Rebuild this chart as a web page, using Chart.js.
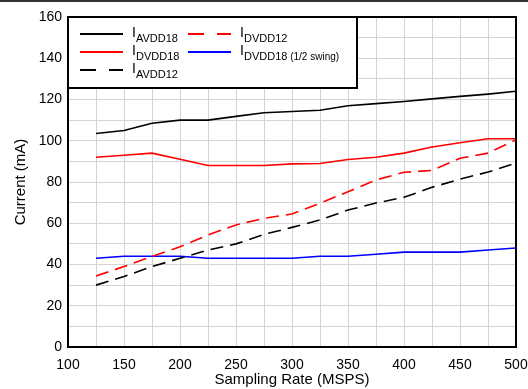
<!DOCTYPE html>
<html>
<head>
<meta charset="utf-8">
<script src="https://cdn.jsdelivr.net/npm/chart.js@4"></script>
<style>
  html, body { margin: 0; padding: 0; background: #fff; }
  #wrap { width: 528px; height: 389px; }
</style>
</head>
<body>
<div id="wrap"><canvas id="currentChart" width="528" height="389"></canvas></div>
<script>
const rates = [125, 150, 175, 200, 225, 250, 275, 300, 325, 350, 375, 400, 425, 450, 475, 500];
const iAvdd18 = [103.5, 105, 108.5, 110, 110, 111.8, 113.6, 114.2, 114.8, 117, 118, 119, 120.3, 121.5, 122.6, 124];
const iDvdd18 = [92, 93, 94, 91, 88, 88, 88, 88.8, 89, 90.9, 92, 94, 97, 99, 101, 101];
const iAvdd12 = [30, 34.2, 39, 43, 47, 50, 54.6, 58, 61.6, 66.4, 69.8, 72.6, 77.4, 81.4, 84.8, 89.2];
const iDvdd12 = [34.4, 39, 43.9, 48.6, 54.3, 59.2, 62.4, 64.5, 69.7, 75.3, 81, 84.7, 85.6, 91.5, 94, 100.5];
const iDvdd18Half = [43, 44, 44, 44, 43, 43, 43, 43, 44, 44, 45, 46, 46, 46, 47, 48];

const FONT = 'Arial, "Liberation Sans", sans-serif';

const series = [
  { name: 'AVDD18', sub: '', data: iAvdd18, color: '#000000', dash: [] },
  { name: 'DVDD18', sub: '', data: iDvdd18, color: '#ff0000', dash: [] },
  { name: 'AVDD12', sub: '', data: iAvdd12, color: '#000000', dash: [13, 7] },
  { name: 'DVDD12', sub: '', data: iDvdd12, color: '#ff0000', dash: [13, 7] },
  { name: 'DVDD18', sub: ' (1/2 swing)', data: iDvdd18Half, color: '#0000ff', dash: [] }
];

// legend slots: [line start x, row y]
const legendSlots = [[80, 34], [80, 52], [80, 70], [188, 34], [188, 52]];

const frame = {
  id: 'frame',
  beforeDraw(chart) {
    const ctx = chart.ctx;
    ctx.save();
    ctx.fillStyle = '#fff';
    ctx.fillRect(0, 0, chart.width, chart.height);
    ctx.fillStyle = '#333';
    ctx.fillRect(0, 0, chart.width, 2);
    ctx.restore();
  },
  afterDraw(chart) {
    const ctx = chart.ctx;
    const a = chart.chartArea;
    ctx.save();
    ctx.strokeStyle = '#000';
    ctx.lineWidth = 2;
    ctx.strokeRect(a.left, a.top, a.right - a.left, a.bottom - a.top);

    // legend box
    const bx = a.left, by = a.top, bw = 289, bh = 71;
    ctx.fillStyle = '#fff';
    ctx.fillRect(bx, by, bw, bh);
    ctx.strokeRect(bx, by, bw, bh);

    series.forEach((s, i) => {
      const [lx, ly] = legendSlots[i];
      ctx.beginPath();
      ctx.setLineDash(s.dash.length ? [16, 13] : []);
      ctx.strokeStyle = s.color;
      ctx.lineWidth = 2;
      ctx.moveTo(lx, ly);
      ctx.lineTo(lx + 43, ly);
      ctx.stroke();
      ctx.setLineDash([]);

      ctx.fillStyle = '#000';
      ctx.textBaseline = 'alphabetic';
      ctx.textAlign = 'left';
      ctx.font = '14px ' + FONT;
      const tx = lx + 52;
      ctx.fillText('I', tx, ly + 3);
      ctx.font = '11px ' + FONT;
      ctx.fillText(s.name, tx + 4, ly + 8);
      if (s.sub) {
        const w = ctx.measureText(s.name).width;
        ctx.font = '10px ' + FONT;
        ctx.fillText(s.sub, tx + 4 + w, ly + 8);
      }
    });
    ctx.restore();
  }
};

new Chart(document.getElementById('currentChart'), {
  type: 'line',
  data: {
    datasets: series.map(s => ({
      label: 'I' + s.name + s.sub,
      data: rates.map((r, i) => ({ x: r, y: s.data[i] })),
      borderColor: s.color,
      borderDash: s.dash,
      borderWidth: 1.6,
      pointRadius: 0,
      fill: false,
      tension: 0
    }))
  },
  options: {
    responsive: false,
    animation: false,
    layout: { padding: { top: 17, right: 12, left: 0, bottom: 0 } },
    plugins: { legend: { display: false }, tooltip: { enabled: false } },
    scales: {
      x: {
        type: 'linear',
        min: 100,
        max: 500,
        afterFit(scale) {
          scale.height = 42;
          scale.paddingLeft = 0;
          scale.paddingRight = 0;
        },
        grid: { color: '#d4d4d4', lineWidth: 1, drawTicks: false },
        border: { display: false },
        ticks: {
          stepSize: 25,
          autoSkip: false,
          maxRotation: 0,
          padding: 10,
          color: '#000',
          font: { family: FONT, size: 14 },
          callback: v => (v % 50 === 0 ? String(v) : '')
        },
        title: {
          display: true,
          text: 'Sampling Rate (MSPS)',
          color: '#000',
          font: { family: FONT, size: 15 },
          padding: { top: 0, bottom: 0 }
        }
      },
      y: {
        min: 0,
        max: 160,
        afterFit(scale) {
          scale.width = 68;
          scale.paddingTop = 0;
          scale.paddingBottom = 0;
        },
        grid: { color: '#d4d4d4', lineWidth: 1, drawTicks: false },
        border: { display: false },
        ticks: {
          stepSize: 10,
          autoSkip: false,
          padding: 6,
          color: '#000',
          font: { family: FONT, size: 14 },
          callback: v => (v % 20 === 0 ? String(v) : '')
        },
        title: {
          display: true,
          text: 'Current (mA)',
          color: '#000',
          font: { family: FONT, size: 15 },
          padding: { top: 12, bottom: 0 }
        }
      }
    }
  },
  plugins: [frame]
});
</script>
</body>
</html>
